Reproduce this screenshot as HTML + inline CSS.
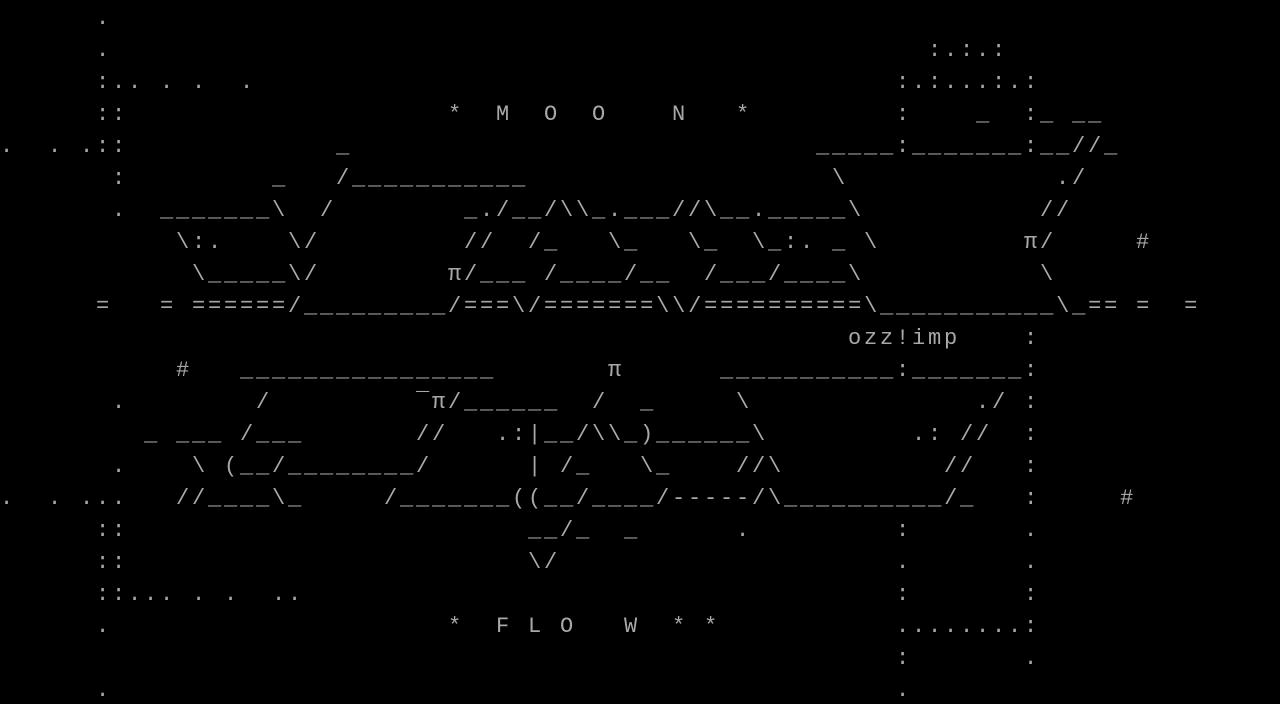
<!DOCTYPE html>
<html><head><meta charset="utf-8"><style>
html,body{margin:0;padding:0;background:#000;width:1280px;height:704px;overflow:hidden}
#c{position:relative;width:1280px;height:704px;top:3px}
#c span{position:absolute;white-space:pre;font-family:"Liberation Mono","DejaVu Sans Mono",monospace;font-size:22px;letter-spacing:2.8px;line-height:32px;color:#a8a8a8;height:32px}
</style></head><body><div id="c">
<span style="left:96px;top:0px">.</span>
<span style="left:96px;top:32px">.</span>
<span style="left:928px;top:32px">:.:.:</span>
<span style="left:96px;top:64px">:.. . .  .</span>
<span style="left:896px;top:64px">:.:...:.:</span>
<span style="left:96px;top:96px">::</span>
<span style="left:448px;top:96px">*  M  O  O    N   *</span>
<span style="left:896px;top:96px">:    _  :_ __</span>
<span style="left:0px;top:128px">.  . .::</span>
<span style="left:336px;top:128px">_</span>
<span style="left:816px;top:128px">_____:_______:__//_</span>
<span style="left:112px;top:160px">:</span>
<span style="left:272px;top:160px">_   /___________</span>
<span style="left:832px;top:160px">\</span>
<span style="left:1056px;top:160px">./</span>
<span style="left:112px;top:192px">.</span>
<span style="left:160px;top:192px">_______\  /</span>
<span style="left:464px;top:192px">_./__/\\_.___//\__._____\</span>
<span style="left:1040px;top:192px">//</span>
<span style="left:176px;top:224px">\:.</span>
<span style="left:288px;top:224px">\/</span>
<span style="left:464px;top:224px">//  /_   \_   \_  \_:. _ \</span>
<span style="left:1024px;top:224px">π/</span>
<span style="left:1136px;top:224px">#</span>
<span style="left:192px;top:256px">\_____\/</span>
<span style="left:448px;top:256px">π/___ /____/__  /___/____\</span>
<span style="left:1040px;top:256px">\</span>
<span style="left:96px;top:288px">=   = ======/_________/===\/=======\\/==========\___________\_== =  =</span>
<span style="left:848px;top:320px">ozz!imp</span>
<span style="left:1024px;top:320px">:</span>
<span style="left:176px;top:352px">#</span>
<span style="left:240px;top:352px">________________</span>
<span style="left:608px;top:352px">π</span>
<span style="left:720px;top:352px">___________:_______:</span>
<span style="left:112px;top:384px">.</span>
<span style="left:256px;top:384px">/</span>
<span style="left:416px;top:384px">‾π/______</span>
<span style="left:592px;top:384px">/  _</span>
<span style="left:736px;top:384px">\</span>
<span style="left:976px;top:384px">./ :</span>
<span style="left:144px;top:416px">_ ___ /___</span>
<span style="left:416px;top:416px">//   .:|__/\\_)______\</span>
<span style="left:912px;top:416px">.: //  :</span>
<span style="left:112px;top:448px">.</span>
<span style="left:192px;top:448px">\ (__/________/</span>
<span style="left:528px;top:448px">| /_   \_    //\</span>
<span style="left:944px;top:448px">//   :</span>
<span style="left:0px;top:480px">.  . ...</span>
<span style="left:176px;top:480px">//____\_</span>
<span style="left:384px;top:480px">/_______((__/____/-----/\__________/_   :     #</span>
<span style="left:96px;top:512px">::</span>
<span style="left:528px;top:512px">__/_  _</span>
<span style="left:736px;top:512px">.</span>
<span style="left:896px;top:512px">:</span>
<span style="left:1024px;top:512px">.</span>
<span style="left:96px;top:544px">::</span>
<span style="left:528px;top:544px">\/</span>
<span style="left:896px;top:544px">.</span>
<span style="left:1024px;top:544px">.</span>
<span style="left:96px;top:576px">::... . .  ..</span>
<span style="left:896px;top:576px">:</span>
<span style="left:1024px;top:576px">:</span>
<span style="left:96px;top:608px">.</span>
<span style="left:448px;top:608px">*  F L O   W  * *</span>
<span style="left:896px;top:608px">........:</span>
<span style="left:896px;top:640px">:</span>
<span style="left:1024px;top:640px">.</span>
<span style="left:96px;top:672px">.</span>
<span style="left:896px;top:672px">.</span>
</div></body></html>
